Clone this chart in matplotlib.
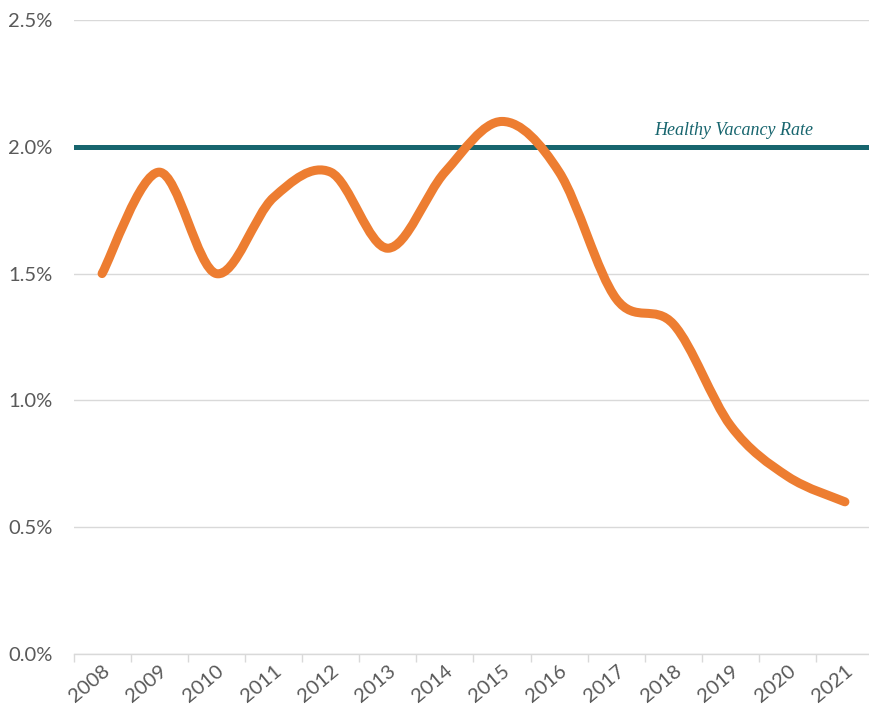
import numpy as np
import matplotlib
matplotlib.use("Agg")
import matplotlib.pyplot as plt
from matplotlib.path import Path
from matplotlib.patches import PathPatch
from matplotlib.ticker import FuncFormatter

# =========================
# Data
# =========================
years = ["2008", "2009", "2010", "2011", "2012", "2013", "2014",
         "2015", "2016", "2017", "2018", "2019", "2020", "2021"]
vacancy = [1.5, 1.9, 1.5, 1.8, 1.9, 1.6, 1.9, 2.1, 1.9, 1.4, 1.3, 0.9, 0.7, 0.6]
healthy_rate = 2.0
healthy_label = "Healthy Vacancy Rate"

# =========================
# Style
# =========================
plt.rcParams['font.family'] = ['Lato', 'DejaVu Sans']
orange = '#ED7D31'
teal = '#17656E'
grid_grey = '#D9D9D9'
text_grey = '#595959'

fig = plt.figure(figsize=(8.69, 7.13), dpi=100)
ax = fig.add_axes([73.5 / 869, 1 - 654 / 713, 800 / 869, 634 / 713])

# --- smoothed line (Excel style bezier through the points) ---
x = np.arange(len(vacancy), dtype=float)
y = np.array(vacancy, dtype=float)
n = len(x)
verts = [(x[0], y[0])]
codes = [Path.MOVETO]
for i in range(n - 1):
    p_prev = np.array([x[max(i - 1, 0)], y[max(i - 1, 0)]])
    p0 = np.array([x[i], y[i]])
    p1 = np.array([x[i + 1], y[i + 1]])
    p_next = np.array([x[min(i + 2, n - 1)], y[min(i + 2, n - 1)]])
    c1 = p0 + (p1 - p_prev) / 6
    c2 = p1 - (p_next - p0) / 6
    verts += [tuple(c1), tuple(c2), tuple(p1)]
    codes += [Path.CURVE4] * 3

curve = PathPatch(Path(verts, codes), fill=False, edgecolor=orange,
                  linewidth=6.5, capstyle='round', joinstyle='round', zorder=3)
ax.add_patch(curve)

# --- healthy vacancy rate line ---
ax.axhline(healthy_rate, color=teal, linewidth=3.6, zorder=2)
ax.text(11.05, healthy_rate + 0.03, healthy_label, color=teal,
        family='Liberation Serif', style='italic', fontsize=13,
        ha='center', va='bottom')

# =========================
# Axes
# =========================
ax.set_xlim(-0.5, n - 0.5)
ax.set_ylim(0, 2.5)
ax.set_yticks(np.arange(0, 2.51, 0.5))
ax.yaxis.set_major_formatter(FuncFormatter(lambda v, p: f"{v:.1f}%"))
ax.grid(axis='y', color=grid_grey, linewidth=1)
ax.set_axisbelow(True)

ax.set_xticks(x)
ax.set_xticklabels(years, rotation=40, ha='right', rotation_mode='anchor')
ax.set_xticks(np.arange(-0.5, n, 1.0), minor=True)
ax.tick_params(axis='x', which='major', length=0, pad=6, labelsize=14.5, labelcolor=text_grey)
ax.tick_params(axis='x', which='minor', length=6, color=grid_grey, width=1)
ax.tick_params(axis='y', length=0, pad=15, labelsize=14.5, labelcolor=text_grey)

for side in ['left', 'right', 'top']:
    ax.spines[side].set_visible(False)
ax.spines['bottom'].set_color(grid_grey)
ax.spines['bottom'].set_linewidth(1)

fig.savefig("out.png", dpi=100)
